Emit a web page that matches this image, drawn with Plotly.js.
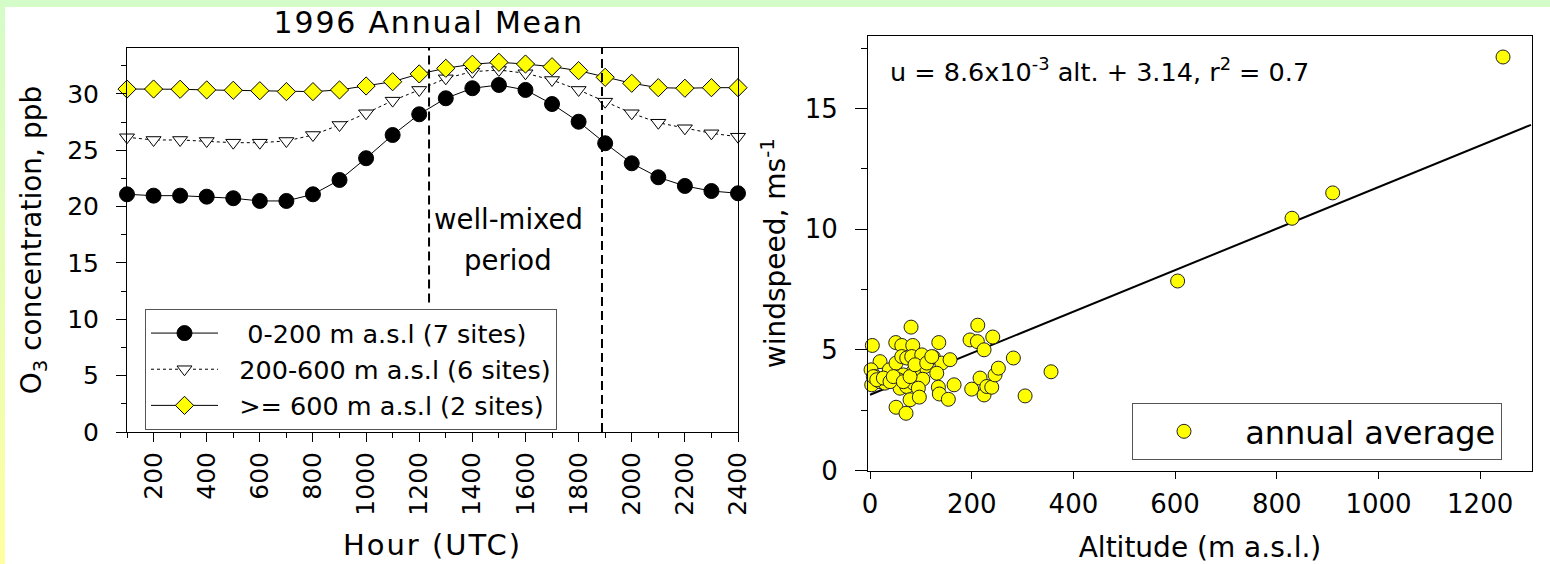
<!DOCTYPE html>
<html><head><meta charset="utf-8">
<script src="https://cdn.plot.ly/plotly-3.0.1.min.js"></script>
<style>
html,body{margin:0;padding:0;width:1550px;height:564px;overflow:hidden;
background:linear-gradient(to bottom,#d4fcc8 0%,#e6fdb8 45%,#ffffa0 100%);}
#chart{width:1550px;height:564px;}
g.annotation[data-index="0"] text{letter-spacing:1.8px;}
text.xtitle{letter-spacing:2px;}
</style></head><body><div id="chart"></div>
<script>
// ---- data: left panel (diurnal O3 by altitude band) ----
const hours = [100,200,300,400,500,600,700,800,900,1000,1100,1200,1300,1400,1500,1600,1700,1800,1900,2000,2100,2200,2300,2400];
const lowSites  = [21.09,20.97,20.97,20.88,20.74,20.50,20.50,21.09,22.36,24.29,26.35,28.19,29.61,30.50,30.79,30.35,29.10,27.53,25.62,23.84,22.60,21.83,21.38,21.18];
const midSites  = [26.15,25.91,25.91,25.82,25.67,25.67,25.82,26.35,27.24,28.28,29.40,30.35,31.38,31.97,32.12,31.83,31.23,30.35,29.31,28.28,27.44,26.95,26.50,26.20];
const highSites = [30.43,30.43,30.41,30.35,30.32,30.28,30.20,30.20,30.35,30.70,31.08,31.77,32.27,32.63,32.80,32.65,32.41,32.06,31.47,30.94,30.55,30.50,30.55,30.55];
const seriesNames = ['\u00a0\u00a0\u00a00-200 m a.s.l (7 sites)','\u00a0\u00a0200-600 m a.s.l (6 sites)','\u00a0\u00a0>= 600 m a.s.l (2 sites)'];
const mixedPeriod = [1237, 1888];
const xTickVals = [200,400,600,800,1000,1200,1400,1600,1800,2000,2200,2400];

// ---- data: right panel (windspeed vs altitude) ----
const altitude = [4.5,80.7,50.6,62.4,84.0,135.2,211.9,196.7,211.1,241.4,
  224.3,19.7,2,9.8,3.3,19.7,29.5,38,51.2,62.4,
  72.2,82,101.7,124.5,141.1,157.4,108.2,85.2,65.5,55.7,
  59,72.2,85.2,103.7,131.2,95,78.7,97,51.2,70.8,
  134.4,136.3,154,165.3,200,216.4,224.3,229.6,239.4,245.9,
  252.4,281.9,305,356,6.5,13.2,26.2,39.3,45.8,65.5,
  78.7,88.5,111.5,121.4,605,830,910,1245];
const windspeed = [5.18,5.94,5.30,5.18,5.18,5.30,6.02,5.41,5.34,5.53,
  5.0,4.51,4.17,3.89,3.55,3.68,3.62,4.17,4.45,4.72,
  4.66,4.72,4.79,4.70,4.45,4.59,4.31,4.10,3.96,3.76,
  3.41,3.48,3.62,3.78,4.03,3.41,2.93,3.04,2.62,2.37,
  3.45,3.17,2.95,3.55,3.37,3.83,3.13,3.48,3.45,3.96,
  4.24,4.66,3.09,4.09,3.89,3.76,3.83,3.68,3.89,3.68,
  3.89,4.38,4.45,4.72,7.85,10.45,11.5,17.13];
const fitSlope = 8.6e-3, fitIntercept = 3.14;
const fitAlt = [0, 1300];
const fitWs = fitAlt.map(a => fitSlope*a + fitIntercept);

const W = 1550, H = 564;
const FONT = 'DejaVu Sans, Liberation Sans, Arial, sans-serif';

const traces = [
  {x:hours, y:lowSites, name:seriesNames[0], type:'scatter', mode:'lines+markers',
   line:{color:'#000', width:1}, marker:{symbol:'circle', size:15, color:'#000', line:{color:'#000', width:1}},
   xaxis:'x', yaxis:'y', legend:'legend', cliponaxis:false},
  {x:hours, y:midSites, name:seriesNames[1], type:'scatter', mode:'lines+markers',
   line:{color:'#000', width:1, dash:'dot'}, marker:{symbol:'triangle-down', size:13, color:'#fff', line:{color:'#000', width:1}},
   xaxis:'x', yaxis:'y', legend:'legend', cliponaxis:false},
  {x:hours, y:highSites, name:seriesNames[2], type:'scatter', mode:'lines+markers',
   line:{color:'#000', width:1}, marker:{symbol:'diamond', size:14, color:'#ffff00', line:{color:'#000', width:1}},
   xaxis:'x', yaxis:'y', legend:'legend', cliponaxis:false},
  {x:fitAlt, y:fitWs, type:'scatter', mode:'lines', line:{color:'#000', width:2},
   xaxis:'x2', yaxis:'y2', showlegend:false, hoverinfo:'skip'},
  {x:altitude, y:windspeed, name:'\u00a0annual average', type:'scatter', mode:'markers',
   marker:{symbol:'circle', size:14, color:'#ffff00', line:{color:'#222', width:1}},
   xaxis:'x2', yaxis:'y2', legend:'legend2', cliponaxis:false}
];

const axCommon = {showline:true, linecolor:'#000', linewidth:1, mirror:true, showgrid:false, zeroline:false,
  ticks:'outside', tickcolor:'#000', tickwidth:1, tickfont:{size:25, family:FONT, color:'#000'}};

const layout = {
  width:W, height:H, margin:{l:0,r:0,t:0,b:0},
  paper_bgcolor:'rgba(0,0,0,0)', plot_bgcolor:'#fff',
  font:{family:FONT, size:25, color:'#000'},
  showlegend:true,
  xaxis:Object.assign({}, axCommon, {domain:[127/W, 738/W], range:[100,2400], tickmode:'array', tickvals:xTickVals,
    ticklen:9, tickangle:-90, anchor:'y',
    minor:{dtick:100, tick0:0, ticks:'outside', ticklen:5, tickcolor:'#000', showgrid:false},
    title:{text:'Hour (UTC)', font:{size:29, family:FONT}, standoff:20}}),
  yaxis:Object.assign({}, axCommon, {domain:[1-432/H, 1-48/H], range:[0,34.07], dtick:5, tick0:0, ticklen:10, anchor:'x',
    ticklabelstandoff:12,
    minor:{dtick:2.5, tick0:0, ticks:'outside', ticklen:5, tickcolor:'#000', showgrid:false},
    title:{text:'O<sub>3</sub> concentration, ppb', font:{size:28, family:FONT}, standoff:17}}),
  xaxis2:Object.assign({}, axCommon, {domain:[868/W, 1532/W], range:[-4,1302], dtick:200, tick0:0, ticklen:7, anchor:'y2',
    tickfont:{size:26, family:FONT, color:'#000'}, ticklabelstandoff:3,
    title:{text:'Altitude (m a.s.l.)', font:{size:28, family:FONT}, standoff:20}}),
  yaxis2:Object.assign({}, axCommon, {domain:[1-470.5/H, 1-36/H], range:[0,18], dtick:5, tick0:0, ticklen:12, anchor:'x2',
    tickfont:{size:26, family:FONT, color:'#000'}, ticklabelstandoff:12,
    minor:{dtick:2.5, tick0:0, ticks:'outside', ticklen:6, tickcolor:'#000', showgrid:false},
    title:{text:'windspeed, ms<sup>-1</sup>', font:{size:28, family:FONT}, standoff:10}}),
  legend:{x:145/W, y:1-309/H, xanchor:'left', yanchor:'top', bgcolor:'#fff', bordercolor:'#555', borderwidth:1,
    font:{size:25.5, family:FONT}, itemwidth:67, tracegroupgap:0},
  legend2:{x:1132/W, y:1-403/H, xanchor:'left', yanchor:'top', bgcolor:'#fff', bordercolor:'#555', borderwidth:1,
    font:{size:32, family:FONT}, itemwidth:92},
  shapes:[
    {type:'rect', xref:'paper', yref:'paper', x0:5/W, x1:1, y0:0, y1:1-7/H, fillcolor:'#fff', line:{width:0}, layer:'below'},
    {type:'line', xref:'x', yref:'y', x0:mixedPeriod[0], x1:mixedPeriod[0], y0:11.5, y1:34.07, line:{color:'#000', width:2, dash:'9px,5px'}},
    {type:'line', xref:'x', yref:'y', x0:mixedPeriod[1], x1:mixedPeriod[1], y0:0, y1:34.07, line:{color:'#000', width:2, dash:'9px,5px'}}
  ],
  annotations:[
    {text:'1996 Annual Mean', xref:'paper', yref:'paper', x:428/W, y:1-22/H, xanchor:'center', yanchor:'middle', showarrow:false, font:{size:30, family:FONT}},
    {text:'well-mixed', xref:'x', yref:'y', x:1536, y:18.9, xanchor:'center', yanchor:'middle', showarrow:false, font:{size:27.5, family:FONT}},
    {text:'period', xref:'x', yref:'y', x:1536, y:15.3, xanchor:'center', yanchor:'middle', showarrow:false, font:{size:27.5, family:FONT}},
    {text:'u = 8.6x10<sup>-3</sup> alt. + 3.14, r<sup>2</sup> = 0.7', xref:'paper', yref:'paper', x:888/W, y:1-70/H, xanchor:'left', yanchor:'middle', showarrow:false, font:{size:25.5, family:FONT}}
  ]
};

Plotly.newPlot('chart', traces, layout, {displayModeBar:false, staticPlot:true});
</script></body></html>
